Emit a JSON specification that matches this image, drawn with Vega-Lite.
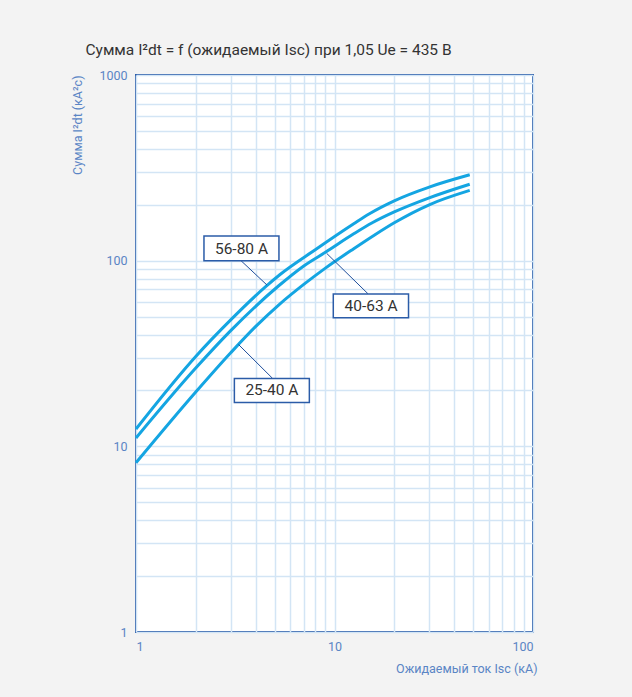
{
  "$schema": "https://vega.github.io/schema/vega-lite/v6.json",
  "autosize": {"type": "none"},
  "width": 397,
  "height": 557,
  "padding": {"left": 136, "top": 75, "right": 99, "bottom": 65},
  "background": "#f3f3f3",
  "view": {"fill": "white", "stroke": "#2b5ca8", "strokeWidth": 2},
  "title": {
    "text": "Сумма I²dt = f (ожидаемый Isc) при 1,05 Ue = 435 В",
    "anchor": "middle",
    "dx": -66,
    "offset": 11,
    "font": "Roboto, sans-serif",
    "fontSize": 15.5,
    "fontWeight": "normal",
    "color": "#333333"
  },
  "datasets": {
    "curves": [
      {"series": "56-80 A", "isc": 1, "i2t": 12.4},
      {"series": "56-80 A", "isc": 2, "i2t": 30.5},
      {"series": "56-80 A", "isc": 3, "i2t": 48},
      {"series": "56-80 A", "isc": 4.5, "i2t": 72.5},
      {"series": "56-80 A", "isc": 5.3, "i2t": 84},
      {"series": "56-80 A", "isc": 8, "i2t": 114.5},
      {"series": "56-80 A", "isc": 12.5, "i2t": 158},
      {"series": "56-80 A", "isc": 15, "i2t": 179},
      {"series": "56-80 A", "isc": 20, "i2t": 210},
      {"series": "56-80 A", "isc": 30, "i2t": 249},
      {"series": "56-80 A", "isc": 48, "i2t": 290},
      {"series": "40-63 A", "isc": 1, "i2t": 11.1},
      {"series": "40-63 A", "isc": 2, "i2t": 26.4},
      {"series": "40-63 A", "isc": 3, "i2t": 42},
      {"series": "40-63 A", "isc": 5.2, "i2t": 72.8},
      {"series": "40-63 A", "isc": 7, "i2t": 93.7},
      {"series": "40-63 A", "isc": 9, "i2t": 111},
      {"series": "40-63 A", "isc": 12.5, "i2t": 139.5},
      {"series": "40-63 A", "isc": 15.5, "i2t": 160},
      {"series": "40-63 A", "isc": 20, "i2t": 183},
      {"series": "40-63 A", "isc": 30, "i2t": 218},
      {"series": "40-63 A", "isc": 48, "i2t": 258},
      {"series": "25-40 A", "isc": 1, "i2t": 8.15},
      {"series": "25-40 A", "isc": 2, "i2t": 19.6},
      {"series": "25-40 A", "isc": 3, "i2t": 31.9},
      {"series": "25-40 A", "isc": 4, "i2t": 44.1},
      {"series": "25-40 A", "isc": 5.28, "i2t": 58.2},
      {"series": "25-40 A", "isc": 7, "i2t": 74.5},
      {"series": "25-40 A", "isc": 9, "i2t": 91.2},
      {"series": "25-40 A", "isc": 12.5, "i2t": 116},
      {"series": "25-40 A", "isc": 16, "i2t": 138},
      {"series": "25-40 A", "isc": 20, "i2t": 160},
      {"series": "25-40 A", "isc": 30, "i2t": 200},
      {"series": "25-40 A", "isc": 48, "i2t": 239}
    ],
    "leaders": [
      {"label": "56-80 A", "x1": 3.38, "y1": 100, "x2": 4.57, "y2": 73.9},
      {"label": "40-63 A", "x1": 9.14, "y1": 109.4, "x2": 14.75, "y2": 66.3},
      {"label": "25-40 A", "x1": 3.28, "y1": 35.4, "x2": 4.88, "y2": 23.2}
    ],
    "boxes": [
      {"label": "56-80 A", "xa": 2.2, "xb": 5.25, "ya": 135.7, "yb": 100, "xc": 3.4, "yc": 115.4},
      {"label": "40-63 A", "xa": 9.86, "xb": 23.6, "ya": 66.1, "yb": 49.3, "xc": 15.3, "yc": 57.0},
      {"label": "25-40 A", "xa": 3.13, "xb": 7.47, "ya": 23.2, "yb": 17.2, "xc": 4.84, "yc": 20.0}
    ]
  },
  "config": {
    "axis": {
      "labelFont": "Roboto, sans-serif",
      "titleFont": "Roboto, sans-serif",
      "labelColor": "#5a85c5",
      "titleColor": "#5a85c5",
      "labelFontSize": 12.5,
      "titleFontSize": 12.5,
      "titleFontWeight": "normal",
      "domain": false,
      "ticks": false,
      "gridColor": "#d3e5f5",
      "gridWidth": 1.5,
      "gridOpacity": 1
    }
  },
  "layer": [
    {
      "data": {"name": "curves"},
      "mark": {"type": "line", "color": "#14a5e2", "strokeWidth": 3, "interpolate": "monotone"},
      "encoding": {
        "x": {
          "field": "isc", "type": "quantitative",
          "scale": {"type": "log", "domain": [1, 100], "nice": false},
          "axis": {
            "values": [1,2,3,4,5,6,7,8,9,10,20,30,40,50,60,70,80,90,100],
            "labelExpr": "indexof([1,10,100], datum.value) >= 0 ? format(datum.value, 'd') : ''",
            "labelPadding": 8,
            "title": "Ожидаемый ток Isc (кА)",
            "titleAnchor": "end",
            "titleAlign": "right",
            "titleX": 401,
            "titlePadding": 10
          }
        },
        "y": {
          "field": "i2t", "type": "quantitative",
          "scale": {"type": "log", "domain": [1, 1000], "nice": false},
          "axis": {
            "values": [1,2,3,4,5,6,7,8,9,10,20,30,40,50,60,70,80,90,100,200,300,400,500,600,700,800,900,1000],
            "labelExpr": "indexof([1,10,100,1000], datum.value) >= 0 ? format(datum.value, 'd') : ''",
            "labelPadding": 9,
            "title": "Сумма I²dt (кА²с)",
            "titleAnchor": "end",
            "titlePadding": 14
          }
        },
        "detail": {"field": "series"}
      }
    },
    {
      "data": {"name": "leaders"},
      "mark": {"type": "rule", "color": "#1f4f9c", "strokeWidth": 1},
      "encoding": {
        "x": {"field": "x1", "type": "quantitative"},
        "y": {"field": "y1", "type": "quantitative"},
        "x2": {"field": "x2"},
        "y2": {"field": "y2"}
      }
    },
    {
      "data": {"name": "boxes"},
      "mark": {"type": "rect", "fill": "white", "stroke": "#2b5ca8", "strokeWidth": 1.5},
      "encoding": {
        "x": {"field": "xa", "type": "quantitative"},
        "x2": {"field": "xb"},
        "y": {"field": "ya", "type": "quantitative"},
        "y2": {"field": "yb"}
      }
    },
    {
      "data": {"name": "boxes"},
      "mark": {"type": "text", "font": "Roboto, sans-serif", "fontSize": 15.5, "color": "#333333", "baseline": "middle", "align": "center"},
      "encoding": {
        "x": {"field": "xc", "type": "quantitative"},
        "y": {"field": "yc", "type": "quantitative"},
        "text": {"field": "label"}
      }
    }
  ]
}
